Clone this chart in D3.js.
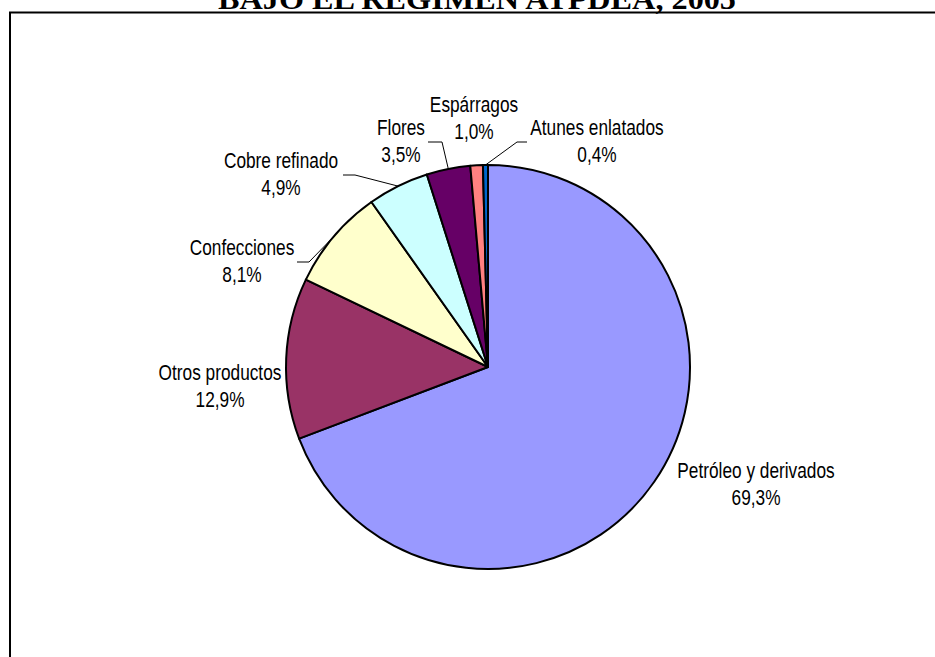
<!DOCTYPE html>
<html>
<head>
<meta charset="utf-8">
<script src="https://cdn.jsdelivr.net/npm/d3@7"></script>
<style>
  body { margin: 0; background: #fff; }
  svg { display: block; }
  .lbl { font-family: "Liberation Sans", Arial, sans-serif; font-size: 22px; fill: #000; }
  .title { font-family: "Liberation Serif", "Times New Roman", serif; font-weight: bold; font-size: 30px; }
</style>
</head>
<body>
<div id="chart"></div>
<script>
var w = 935,
    h = 657;

// data
var categories = ["Petróleo y derivados", "Otros productos", "Confecciones",
                  "Cobre refinado", "Flores", "Espárragos", "Atunes enlatados"];
var shares = [69.3, 12.9, 8.1, 4.9, 3.5, 1.0, 0.4];
var shareLabels = ["69,3%", "12,9%", "8,1%", "4,9%", "3,5%", "1,0%", "0,4%"];
var colors = ["#9999ff", "#993366", "#ffffcc", "#ccffff", "#660066", "#ff8080", "#0066cc"];

// where Excel put the labels (center x, first baseline) and leader elbows
var labelLayout = [
  {x: 756, y: 478},
  {x: 220, y: 380},
  {x: 242, y: 255},
  {x: 281, y: 168},
  {x: 401, y: 135},
  {x: 474, y: 112},
  {x: 597, y: 135}
];
var leaders = [null, null, [[309, 262], [297, 262]], [[355, 175], [343, 175]],
               [[442, 142], [428, 142]], null, [[517, 142], [527, 142]]];

var cx = 488, cy = 367, r = 202;

var svg = d3.select("#chart").append("svg")
    .attr("width", w)
    .attr("height", h);

svg.append("text")
    .attr("class", "title")
    .attr("x", 477)
    .attr("y", 9)
    .attr("text-anchor", "middle")
    .attr("textLength", 518)
    .attr("lengthAdjust", "spacingAndGlyphs")
    .text("BAJO EL RÉGIMEN ATPDEA, 2005");

// chart frame (right and bottom run off the page)
svg.append("rect")
    .attr("x", 10)
    .attr("y", 12.5)
    .attr("width", 940)
    .attr("height", 700)
    .attr("fill", "none")
    .attr("stroke", "#000")
    .attr("stroke-width", 2);

var pie = d3.pie().sort(null).value(function(d) { return d; });
var arcs = pie(shares);

var arc = d3.arc().innerRadius(0).outerRadius(r);

var g = svg.append("g").attr("transform", "translate(" + cx + "," + cy + ")");

g.selectAll("path.slice")
    .data(arcs)
  .enter().append("path")
    .attr("class", "slice")
    .attr("d", arc)
    .attr("fill", function(d, i) { return colors[i]; })
    .attr("stroke", "#000")
    .attr("stroke-width", 2)
    .attr("stroke-linejoin", "round");

// leader lines: from the arc at mid-angle to the label
arcs.forEach(function(d, i) {
  if (!leaders[i]) return;
  var a = (d.startAngle + d.endAngle) / 2,
      start = [cx + r * Math.sin(a), cy - r * Math.cos(a)],
      pts = [start].concat(leaders[i]);
  svg.append("path")
      .attr("d", "M" + pts.join("L"))
      .attr("fill", "none")
      .attr("stroke", "#000")
      .attr("stroke-width", 1);
});

var lab = svg.selectAll("g.label")
    .data(categories)
  .enter().append("g")
    .attr("class", "label")
    .attr("transform", function(d, i) {
      return "translate(" + labelLayout[i].x + "," + labelLayout[i].y + ")scale(0.785,1)";
    });

lab.append("text")
    .attr("class", "lbl")
    .attr("text-anchor", "middle")
    .text(function(d) { return d; });

lab.append("text")
    .attr("class", "lbl")
    .attr("text-anchor", "middle")
    .attr("y", 27.5)
    .text(function(d, i) { return shareLabels[i]; });
</script>
</body>
</html>
